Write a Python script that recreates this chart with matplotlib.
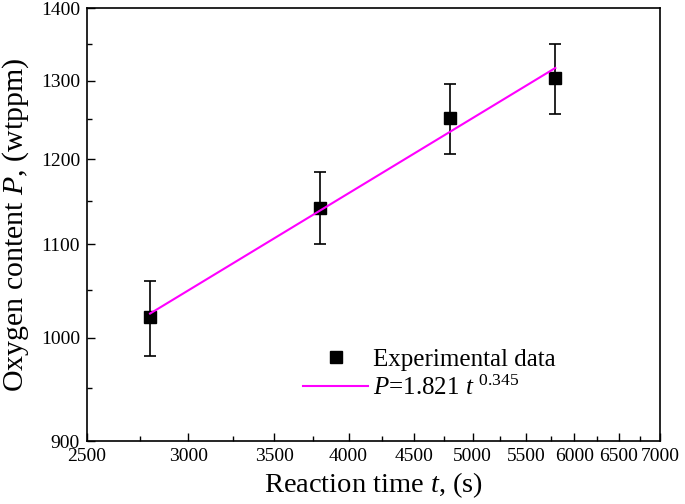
import numpy as np
import matplotlib
matplotlib.use('Agg')
import matplotlib.pyplot as plt
from matplotlib.ticker import FixedLocator, FixedFormatter, NullFormatter

plt.rcParams['font.family'] = ['Liberation Serif', 'DejaVu Serif']
plt.rcParams['mathtext.fontset'] = 'custom'
plt.rcParams['mathtext.it'] = 'Liberation Serif:italic'
plt.rcParams['mathtext.rm'] = 'Liberation Serif'

# measured data
time_s = [2800, 3800, 4800, 5800]
oxygen = [1021, 1142, 1251, 1303]
oxygen_err = [39, 42, 45, 47]

# fitted power law, drawn between its end points (straight on log-log)
fit_t = [2800, 5800]
fit_p = [1025, 1317]

x_ticks = [2500, 3000, 3500, 4000, 4500, 5000, 5500, 6000, 6500, 7000]
x_minor = [2750, 3250, 3750, 4250, 4750, 5250, 5750, 6250, 6750]
y_ticks = [900, 1000, 1100, 1200, 1300, 1400]
y_minor = [950, 1050, 1150, 1250, 1350]

fig = plt.figure(figsize=(6.85, 5.04), dpi=100)
ax = fig.add_axes([0.127, 0.125, 0.8365, 0.859])

ax.errorbar(time_s, oxygen, yerr=oxygen_err, fmt='none', ecolor='black',
            elinewidth=1.2, capsize=4, capthick=1.2, zorder=2)
ax.plot(time_s, oxygen, 's', color='black', markersize=8.5,
        label='Experimental data', zorder=3)
ax.plot(fit_t, fit_p, '-', color='#ff00ff', lw=1.5,
        label=r'$P$=1.821 $t$ $^{0.345}$', zorder=4)

ax.set_xscale('log')
ax.set_yscale('log')
ax.set_xlim(2500, 7000)
ax.set_ylim(900, 1400)

ax.xaxis.set_major_locator(FixedLocator(x_ticks))
ax.xaxis.set_major_formatter(FixedFormatter([str(v) for v in x_ticks]))
ax.xaxis.set_minor_locator(FixedLocator(x_minor))
ax.xaxis.set_minor_formatter(NullFormatter())
ax.yaxis.set_major_locator(FixedLocator(y_ticks))
ax.yaxis.set_major_formatter(FixedFormatter([str(v) for v in y_ticks]))
ax.yaxis.set_minor_locator(FixedLocator(y_minor))
ax.yaxis.set_minor_formatter(NullFormatter())

ax.tick_params(which='both', direction='in', top=False, right=False,
               labelsize=14, width=1.0)
ax.tick_params(which='major', length=6)
ax.tick_params(which='minor', length=3.5)
ax.tick_params(axis='x', pad=5)
ax.tick_params(axis='y', pad=5)
for sp in ax.spines.values():
    sp.set_linewidth(1.2)

ax.set_xlabel(r'Reaction time $t$, (s)', fontsize=20.5, labelpad=4)
ax.set_ylabel(r'Oxygen content $P$, (wtppm)', fontsize=21.5, labelpad=7)

ax.legend(loc='upper left', bbox_to_anchor=(0.377, 0.214), frameon=False,
          fontsize=18, handlelength=2.6, handletextpad=0.2, labelspacing=0.2,
          borderpad=0, borderaxespad=0)

fig.savefig('out.png', dpi=100)
